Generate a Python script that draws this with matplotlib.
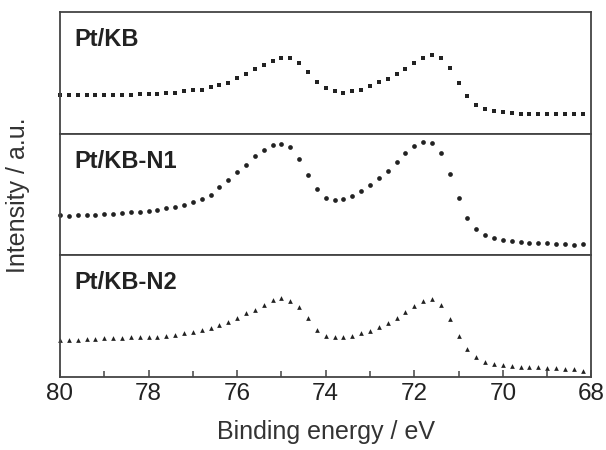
import numpy as np
import matplotlib.pyplot as plt
from matplotlib.ticker import MultipleLocator

plt.rcParams['font.family'] = ['Liberation Sans', 'DejaVu Sans']

# ── Data ──────────────────────────────────────────────────────────────────────
# binding energy grid, 80.0 -> 68.2 eV in 0.2 eV steps
ENERGY = np.round(np.arange(80.0, 68.1, -0.2), 1)

SAMPLES = ['Pt/KB', 'Pt/KB-N1', 'Pt/KB-N2']
MARKERS = ['s', 'o', '^']

PT_KB = [38.7, 38.7, 38.7, 38.7, 38.7, 38.7, 39.3, 39.3, 39.3, 39.7,
         40.3, 40.3, 41.0, 41.3, 42.7, 43.7, 44.3, 47.0, 48.7, 51.3,
         56.0, 60.3, 64.7, 68.7, 73.0, 76.3, 76.3, 71.0, 62.0, 52.0,
         46.0, 42.7, 41.3, 42.7, 44.3, 47.7, 52.0, 55.3, 59.7, 65.3,
         71.0, 76.0, 78.7, 76.0, 66.0, 51.0, 38.0, 29.3, 24.7, 23.0,
         22.0, 21.3, 20.3, 19.7, 19.7, 19.7, 19.7, 19.7, 19.7, 19.7]

PT_KB_N1 = [40.0, 39.7, 40.0, 40.3, 40.7, 41.3, 41.7, 42.3, 43.0, 43.7,
            44.5, 45.5, 47.0, 48.5, 50.5, 53.0, 56.0, 60.0, 68.0, 75.5,
            83.0, 90.7, 99.0, 105.7, 110.0, 111.0, 108.3, 96.7, 80.0, 66.0,
            57.7, 55.3, 56.7, 59.7, 64.3, 70.7, 77.3, 84.0, 93.3, 102.3,
            109.3, 113.7, 112.7, 102.3, 81.0, 57.3, 37.7, 26.0, 20.7, 17.3,
            15.0, 14.0, 13.3, 12.7, 12.3, 12.0, 11.7, 11.3, 10.7, 11.0]

PT_KB_N2 = [37.0, 37.0, 37.0, 37.7, 38.3, 38.7, 39.0, 39.3, 39.7, 39.7,
            39.7, 40.3, 41.0, 42.3, 43.7, 45.3, 47.0, 49.3, 52.0, 55.3,
            59.2, 63.7, 67.0, 72.0, 77.0, 78.7, 76.3, 70.3, 58.7, 47.0,
            41.0, 40.3, 39.7, 41.0, 43.7, 46.3, 49.7, 53.7, 59.3, 65.3,
            71.0, 75.7, 77.7, 72.0, 58.0, 41.0, 27.7, 19.7, 15.3, 13.0,
            12.0, 11.0, 10.3, 10.0, 9.7, 9.3, 8.7, 8.0, 7.7, 6.3]

SERIES = [PT_KB, PT_KB_N1, PT_KB_N2]

INK = '#222222'

fig, axes = plt.subplots(3, 1, figsize=(6.06, 4.5), dpi=100, sharex=True)
fig.subplots_adjust(left=0.099, right=0.976, top=0.973, bottom=0.162, hspace=0)

for ax, name, vals, mk in zip(axes, SAMPLES, SERIES, MARKERS):
    ax.plot(ENERGY, vals, linestyle='none', marker=mk, markersize=3.4,
            color=INK, markeredgewidth=0, clip_on=False)
    ax.set_ylim(0, 121.7)
    ax.set_yticks([])
    ax.text(0.027, 0.775, name, transform=ax.transAxes, fontsize=17,
            fontweight='bold', color=INK, va='center', ha='left')
    for sp in ax.spines.values():
        sp.set_color('#444444')
        sp.set_linewidth(1.3)
    ax.tick_params(axis='x', which='both', bottom=False, labelbottom=False)

ax = axes[-1]
ax.set_xlim(80, 68)
ax.xaxis.set_major_locator(MultipleLocator(2))
ax.xaxis.set_minor_locator(MultipleLocator(1))
ax.tick_params(axis='x', which='both', direction='in', bottom=True,
               labelbottom=True, colors='#444444', labelcolor=INK,
               labelsize=17.5, width=1.1)
ax.tick_params(axis='x', which='major', length=5, pad=4)
ax.tick_params(axis='x', which='minor', length=4)
ax.set_xlabel('Binding energy / eV', fontsize=18, color='#333333', labelpad=11)

fig.text(0.03, 0.567, 'Intensity / a.u.', rotation=90, fontsize=18,
         color='#333333', ha='center', va='center')

fig.savefig('out.png', dpi=100)
